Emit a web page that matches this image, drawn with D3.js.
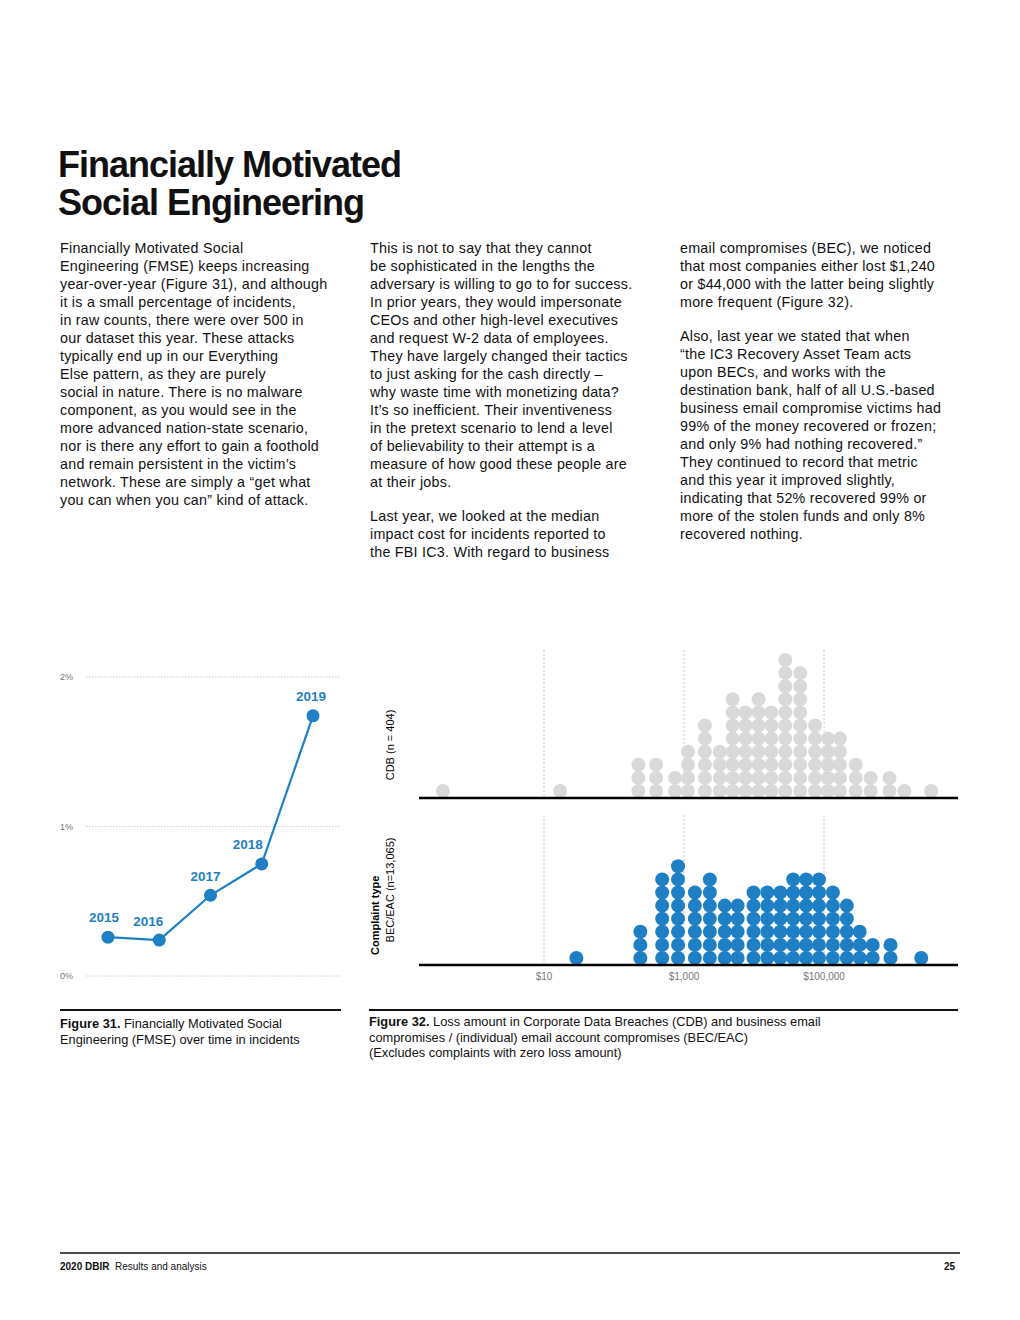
<!DOCTYPE html>
<html><head><meta charset="utf-8">
<script src="https://cdn.jsdelivr.net/npm/d3@7"></script>
<style>
body{margin:0;background:#fff;font-family:"Liberation Sans",Arial,sans-serif;color:#111;}
#page{position:relative;width:1020px;height:1320px;}
.t{position:absolute;font-size:14.3px;line-height:18px;letter-spacing:0.25px;white-space:nowrap;}
h1{position:absolute;left:58px;top:146px;margin:0;font-size:36px;line-height:38px;font-weight:bold;letter-spacing:-1px;}
.cap{position:absolute;font-size:12.8px;line-height:15.5px;white-space:nowrap;}
svg{position:absolute;left:0;top:0;}
</style></head><body>
<div id="page">
<h1>Financially Motivated<br>Social Engineering</h1>
<div class="t" style="left:60px;top:239px">Financially Motivated Social<br>Engineering (FMSE) keeps increasing<br>year-over-year (Figure 31), and although<br>it is a small percentage of incidents,<br>in raw counts, there were over 500 in<br>our dataset this year. These attacks<br>typically end up in our Everything<br>Else pattern, as they are purely<br>social in nature. There is no malware<br>component, as you would see in the<br>more advanced nation-state scenario,<br>nor is there any effort to gain a foothold<br>and remain persistent in the victim’s<br>network. These are simply a “get what<br>you can when you can” kind of attack.</div>
<div class="t" style="left:370px;top:239px">This is not to say that they cannot<br>be sophisticated in the lengths the<br>adversary is willing to go to for success.<br>In prior years, they would impersonate<br>CEOs and other high-level executives<br>and request W-2 data of employees.<br>They have largely changed their tactics<br>to just asking for the cash directly –<br>why waste time with monetizing data?<br>It’s so inefficient. Their inventiveness<br>in the pretext scenario to lend a level<br>of believability to their attempt is a<br>measure of how good these people are<br>at their jobs.<br><div style="height:16px"></div>Last year, we looked at the median<br>impact cost for incidents reported to<br>the FBI IC3. With regard to business</div>
<div class="t" style="left:680px;top:239px">email compromises (BEC), we noticed<br>that most companies either lost $1,240<br>or $44,000 with the latter being slightly<br>more frequent (Figure 32).<br><div style="height:16px"></div>Also, last year we stated that when<br>“the IC3 Recovery Asset Team acts<br>upon BECs, and works with the<br>destination bank, half of all U.S.-based<br>business email compromise victims had<br>99% of the money recovered or frozen;<br>and only 9% had nothing recovered.”<br>They continued to record that metric<br>and this year it improved slightly,<br>indicating that 52% recovered 99% or<br>more of the stolen funds and only 8%<br>recovered nothing.</div>
<div class="cap" style="left:60px;top:1016px"><b>Figure 31.</b> Financially Motivated Social<br>Engineering (FMSE) over time in incidents</div>
<div class="cap" style="left:369px;top:1014px"><b>Figure 32.</b> Loss amount in Corporate Data Breaches (CDB) and business email<br>compromises / (individual) email account compromises (BEC/EAC)<br>(Excludes complaints with zero loss amount)</div>
<div class="cap" style="left:60px;top:1259px;font-size:10px"><b>2020 DBIR</b>&nbsp; Results and analysis</div>
<div class="cap" style="left:944px;top:1259px;font-size:10px"><b>25</b></div>
</div>
<script>
const years=["2015","2016","2017","2018","2019"];
const fmsePct=[0.26,0.24,0.54,0.75,1.74];
const pctTicks=[0,1,2];
const cdbAmounts=[0.36,17,223,400,745,1140,1990,3240,4960,7570,11600,17700,28000,45700,74500,114000,169000,284000,464000,863000,1410000,3400000];
const cdbCounts=[1,1,3,3,2,4,6,4,8,7,8,7,11,10,6,5,5,3,2,2,1,1];
const becAmounts=[29,238,488,822,1430,2340,3820,5840,9840,15500,23800,36300,55600,84900,134000,212000,324000,496000,892000,2450000];
const becCounts=[1,3,7,8,6,7,5,5,6,6,6,7,7,7,6,5,3,2,2,1];
const moneyTicks=[10,1000,100000];

const svg=d3.select("#page").append("svg").attr("width",1020).attr("height",1320);
// line chart
const x1=d3.scalePoint().domain(years).range([108,313]);
const y1=d3.scaleLinear().domain([0,2]).range([976,677]);
const blue="#1f7fc4";
pctTicks.forEach(t=>{
  svg.append("line").attr("x1",86).attr("x2",341).attr("y1",y1(t)).attr("y2",y1(t)).attr("stroke","#ccc").attr("stroke-dasharray","1.5,1.5");
  svg.append("text").attr("x",60).attr("y",y1(t)+3).attr("font-size",9).attr("fill","#777").text(t+"%");
});
const pts=years.map((y,i)=>[x1(y),y1(fmsePct[i])]);
svg.append("path").attr("d",d3.line()(pts)).attr("fill","none").attr("stroke",blue).attr("stroke-width",2.2);
const lblOff=[[-4,-15],[-11,-14],[-5,-14],[-14,-15],[-2,-15]];
pts.forEach((p,i)=>{
  svg.append("circle").attr("cx",p[0]).attr("cy",p[1]).attr("r",6.5).attr("fill",blue);
  svg.append("text").attr("x",p[0]+lblOff[i][0]).attr("y",p[1]+lblOff[i][1]).attr("text-anchor","middle").attr("font-size",13.5).attr("font-weight","bold").attr("fill",blue).text(years[i]);
});
svg.append("line").attr("x1",60).attr("x2",341).attr("y1",1010).attr("y2",1010).attr("stroke","#111").attr("stroke-width",2);
// dot chart
const xs=d3.scaleLog().domain([10,100000]).range([544,824]);
const step=13.1, r=7;
function panel(amts,counts,base,top,color){
  moneyTicks.forEach(t=>svg.append("line").attr("x1",xs(t)).attr("x2",xs(t)).attr("y1",top).attr("y2",base).attr("stroke","#ccc").attr("stroke-dasharray","2,2"));
  amts.forEach((a,i)=>{for(let k=0;k<counts[i];k++)svg.append("circle").attr("cx",xs(a)).attr("cy",base-7-k*step).attr("r",r).attr("fill",color);});
  svg.append("line").attr("x1",419).attr("x2",958).attr("y1",base).attr("y2",base).attr("stroke","#000").attr("stroke-width",2.5);
}
panel(cdbAmounts,cdbCounts,798,650,"#d9d9d9");
panel(becAmounts,becCounts,965,815,blue);
const fmt=d3.format("$,");
moneyTicks.forEach(t=>svg.append("text").attr("x",xs(t)).attr("y",980).attr("text-anchor","middle").attr("font-size",10).attr("fill","#777").text(fmt(t)));
svg.append("text").attr("transform","translate(394,745) rotate(-90)").attr("text-anchor","middle").attr("font-size",11).text("CDB (n = 404)");
svg.append("text").attr("transform","translate(394,890) rotate(-90)").attr("text-anchor","middle").attr("font-size",11).text("BEC/EAC (n=13,065)");
svg.append("text").attr("transform","translate(379,955) rotate(-90)").attr("font-size",11).attr("font-weight","bold").text("Complaint type");
svg.append("line").attr("x1",369).attr("x2",958).attr("y1",1010).attr("y2",1010).attr("stroke","#111").attr("stroke-width",2);
svg.append("line").attr("x1",60).attr("x2",960).attr("y1",1253).attr("y2",1253).attr("stroke","#111").attr("stroke-width",1.5);
</script>
</body></html>
